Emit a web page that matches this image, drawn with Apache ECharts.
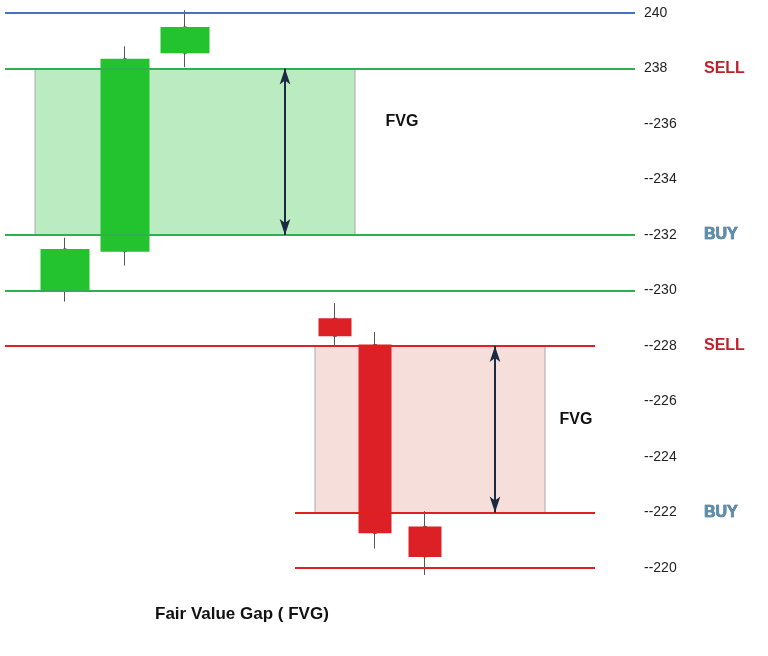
<!DOCTYPE html><html><head><meta charset="utf-8"><script src="https://cdn.jsdelivr.net/npm/echarts@6/dist/echarts.min.js"></script>
<style>html,body{margin:0;background:#fff}#c{width:768px;height:656px}</style></head><body><div id="c"></div><script>
const slots=Array.from({length:64},(_,i)=>String(i));
const greenIdx=[6,12,18];
const greenOHLC=[[230,231.5,229.6,231.9],[231.4,238.35,230.9,238.8],[238.55,239.5,238.05,240.1]];
const redIdx=[33,37,42];
const redOHLC=[[229.0,228.35,228.0,229.55],[228.05,221.25,220.7,228.5],[221.5,220.4,219.75,222.05]];
const yTicks=[220,222,224,226,228,230,232,234,236,238,240];
function build(idx,arr,body){const d=slots.map(()=>'-');idx.forEach((s,k)=>{const [o,c,l,h]=arr[k];d[s]=body?[o,c,Math.min(o,c),Math.max(o,c)]:[o,c,l,h];});return d;}
const ch=echarts.init(document.getElementById('c'));
function hl(y,x1,x2,color){return [{coord:[String(x1),y],lineStyle:{color:color,width:2,type:'solid'}},{coord:[String(x2),y]}];}
const wickStyle={color:'#555',color0:'#555',borderColor:'#555',borderColor0:'#555',borderWidth:1};
const opt={animation:false,
grid:{left:0,right:128,top:13,bottom:88},
xAxis:{type:'category',data:slots,show:false,boundaryGap:true},
yAxis:{type:'value',position:'right',min:220,max:240,interval:2,splitLine:{show:false},axisLine:{show:false},axisTick:{show:false},
 axisLabel:{margin:4,color:'#222',fontSize:14,fontFamily:'Arial',formatter:v=>(v>=238?'':'--')+v}},
series:[
{type:'candlestick',clip:false,barWidth:4,data:build(greenIdx,greenOHLC,false),itemStyle:wickStyle,
 markArea:{silent:true,itemStyle:{color:'rgba(120,215,130,0.5)',borderColor:'#aaa',borderWidth:1},
  label:{show:true,position:'right',distance:30,color:'#111',fontWeight:'bold',fontSize:16,fontFamily:'Arial',formatter:'FVG',offset:[0,-30]},
  data:[[{coord:['3',238]},{coord:['35',232]}]]},
 markLine:{silent:true,symbol:'none',label:{show:false},
  data:[hl(240,0,63,'#4a6fc0'),hl(238,0,63,'#2fb050'),hl(232,0,63,'#2fb050'),hl(230,0,63,'#2fb050'),
   hl(228,0,59,'#e02020'),hl(222,29,59,'#e02020'),hl(220,29,59,'#e02020'),
   [{coord:['28',238],symbol:'arrow',lineStyle:{color:'#1a2a40',width:2,type:'solid'}},{coord:['28',232],symbol:'arrow'}],
   [{coord:['49',228],symbol:'arrow',lineStyle:{color:'#1a2a40',width:2,type:'solid'}},{coord:['49',222],symbol:'arrow'}]]}},
{type:'candlestick',clip:false,barWidth:50,data:build(greenIdx,greenOHLC,true),
 itemStyle:{color:'#22c32e',color0:'#22c32e',borderColor:'#22c32e',borderColor0:'#22c32e',borderWidth:0}},
{type:'candlestick',clip:false,barWidth:4,data:build(redIdx,redOHLC,false),itemStyle:wickStyle,
 markArea:{silent:true,itemStyle:{color:'rgba(240,200,195,0.6)',borderColor:'#aaa',borderWidth:1},
  label:{show:true,position:'right',distance:14,color:'#111',fontWeight:'bold',fontSize:16,fontFamily:'Arial',formatter:'FVG',offset:[0,-10]},
  data:[[{coord:['31',228]},{coord:['54',222]}]]}},
{type:'candlestick',clip:false,barWidth:34,data:build(redIdx,redOHLC,true),
 itemStyle:{color:'#dd2025',color0:'#dd2025',borderColor:'#dd2025',borderColor0:'#dd2025',borderWidth:0}}
]};
ch.setOption(opt);
const g=[{type:'text',left:155,top:606,style:{text:'Fair Value Gap ( FVG)',fontSize:17,fontWeight:'bold',fontFamily:'Arial',fill:'#111'}}];
[[238,'SELL'],[232,'BUY'],[228,'SELL'],[222,'BUY']].forEach(([v,t])=>{const y=ch.convertToPixel({yAxisIndex:0},v);
 g.push({type:'text',x:704,y:y,style:{text:t,fontSize:16,fontWeight:'bold',fontFamily:'Arial',verticalAlign:'middle',
  fill:t==='SELL'?'#c0202a':'#5b8fb0',stroke:t==='BUY'?'#2a4a60':null,lineWidth:t==='BUY'?0.6:0}});});
ch.setOption({graphic:g});
</script></body></html>
